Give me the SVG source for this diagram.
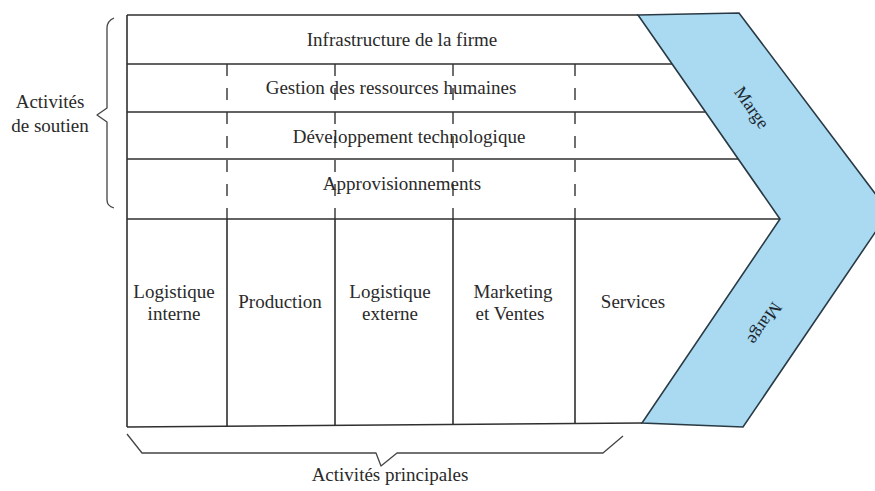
<svg xmlns="http://www.w3.org/2000/svg" width="875" height="491" viewBox="0 0 875 491">
  <style>
    .t { font-family: "Liberation Serif", "Times New Roman", serif; font-size: 19px; fill: #2a2a2a; text-anchor: middle; }
    .m { font-size: 18px; fill: #1c2730; }
    .ln { stroke: #2f2f2f; stroke-width: 1.6; fill: none; }
    .dash { stroke: #333; stroke-width: 1.4; stroke-dasharray: 12 12; fill: none; }
    .brace { stroke: #444; stroke-width: 1.3; fill: none; stroke-linejoin: round; }
  </style>
  <rect width="875" height="491" fill="#ffffff"/>

  <!-- margin chevron -->
  <g id="marge">
    <polygon points="638,15 739,13 889,212 743,427 642,423 780,219" fill="#a9daf2" stroke="#2a3a44" stroke-width="1.6" stroke-linejoin="miter"/>
    <text class="t m" transform="translate(751,108) rotate(55)" dy="5">Marge</text>
    <text class="t m" transform="translate(764,323) rotate(124)" dy="5">Marge</text>
  </g>

  <!-- frame and grid -->
  <g id="connectors">
    <line class="ln" x1="127" y1="15" x2="638" y2="15"/>
    <line class="ln" x1="127" y1="15" x2="127" y2="427"/>
    <line class="ln" x1="127" y1="427" x2="642" y2="423"/>
    <line class="ln" x1="127" y1="64" x2="672" y2="64"/>
    <line class="ln" x1="127" y1="112" x2="705" y2="112"/>
    <line class="ln" x1="127" y1="159" x2="738" y2="159"/>
    <line class="ln" x1="127" y1="219" x2="780" y2="219"/>
    <line class="dash" x1="227" y1="64" x2="227" y2="219"/>
    <line class="dash" x1="335" y1="64" x2="335" y2="219"/>
    <line class="dash" x1="453" y1="64" x2="453" y2="219"/>
    <line class="dash" x1="575" y1="64" x2="575" y2="219"/>
    <line class="ln" x1="227" y1="219" x2="227" y2="426"/>
    <line class="ln" x1="335" y1="219" x2="335" y2="425"/>
    <line class="ln" x1="453" y1="219" x2="453" y2="424"/>
    <line class="ln" x1="575" y1="219" x2="575" y2="424"/>
  </g>

  <!-- support activities -->
  <g id="infrastructure"><text class="t" x="402" y="46">Infrastructure de la firme</text></g>
  <g id="grh"><text class="t" x="391" y="94">Gestion des ressources humaines</text></g>
  <g id="developpement"><text class="t" x="409" y="143">Développement technologique</text></g>
  <g id="approvisionnements"><text class="t" x="402" y="190">Approvisionnements</text></g>

  <!-- primary activities -->
  <g id="logistique-interne">
    <text class="t" x="174" y="298">Logistique</text>
    <text class="t" x="174" y="320">interne</text>
  </g>
  <g id="production"><text class="t" x="280" y="308">Production</text></g>
  <g id="logistique-externe">
    <text class="t" x="390" y="298">Logistique</text>
    <text class="t" x="390" y="320">externe</text>
  </g>
  <g id="marketing-ventes">
    <text class="t" x="513" y="298">Marketing</text>
    <text class="t" x="510" y="320">et Ventes</text>
  </g>
  <g id="services"><text class="t" x="633" y="308">Services</text></g>

  <!-- braces -->
  <g id="soutien">
    <path class="brace" d="M114,18 Q107,21 107,28 L107,108 L97,115 L107,122 L107,200 Q107,206 114,208"/>
    <text class="t" x="50" y="108">Activités</text>
    <text class="t" x="50" y="132">de soutien</text>
  </g>
  <g id="principales">
    <path class="brace" d="M127,434 L142,453 L376,453 L381,466 L397,453 L603,453 L623,436"/>
    <text class="t" x="390" y="481">Activités principales</text>
  </g>
</svg>
